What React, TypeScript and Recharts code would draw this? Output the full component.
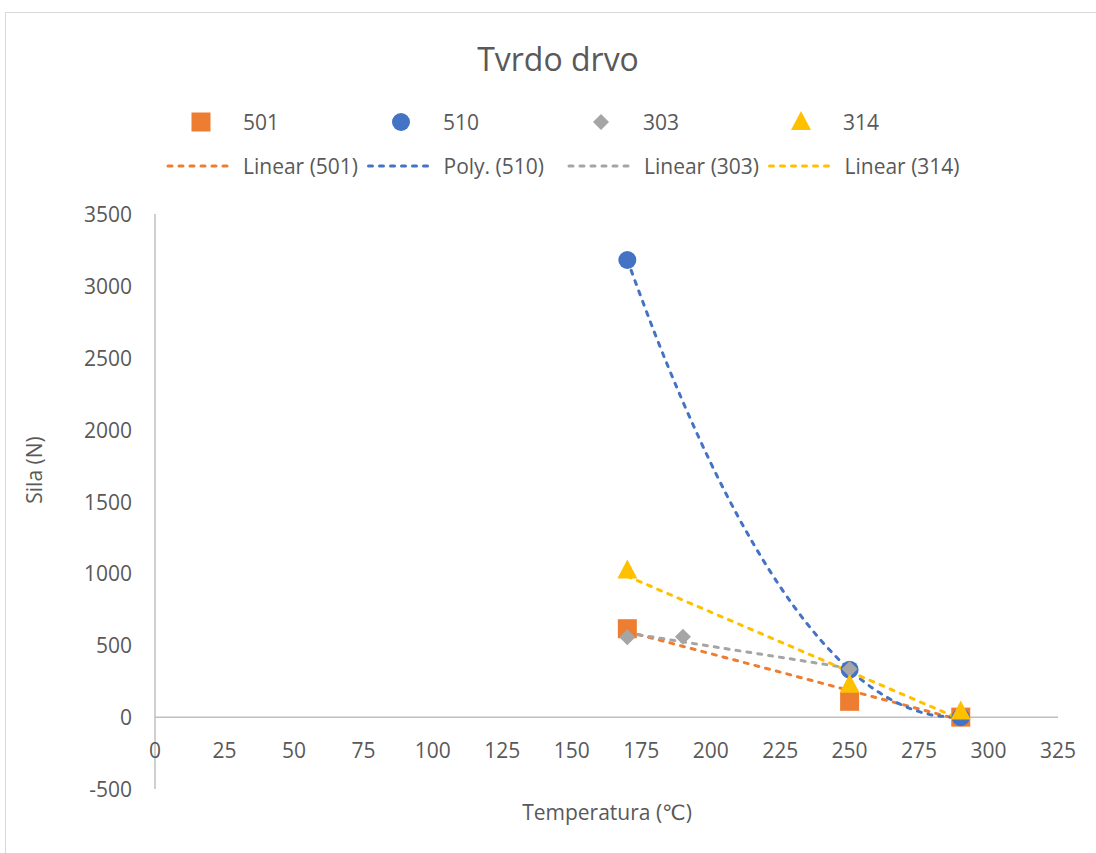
import React from "react";
import {
  ComposedChart,
  Scatter,
  Line,
  XAxis,
  YAxis,
  ReferenceLine,
  Label,
} from "recharts";

// ---- data ----
const xTicks = [0, 25, 50, 75, 100, 125, 150, 175, 200, 225, 250, 275, 300, 325];
const yTicks = [-500, 0, 500, 1000, 1500, 2000, 2500, 3000, 3500];

const series501 = [
  { x: 170, y: 615 },
  { x: 250, y: 110 },
  { x: 290, y: 0 },
];
const series510 = [
  { x: 170, y: 3180 },
  { x: 250, y: 330 },
  { x: 290, y: 0 },
];
const series303 = [
  { x: 170, y: 555 },
  { x: 190, y: 560 },
  { x: 250, y: 335 },
];
const series314 = [
  { x: 170, y: 1020 },
  { x: 250, y: 225 },
  { x: 290, y: 40 },
];

// trendlines
const trend501 = [
  { x: 170, y: 595 },
  { x: 290, y: -20 },
];
const trend303 = [
  { x: 170, y: 585 },
  { x: 250, y: 340 },
];
const trend314 = [
  { x: 170, y: 980 },
  { x: 290, y: -15 },
];
const trend510 = [
  { x: 170, y: 3180 },
  { x: 180, y: 2664 },
  { x: 190, y: 2194 },
  { x: 200, y: 1769 },
  { x: 210, y: 1390 },
  { x: 220, y: 1057 },
  { x: 230, y: 769 },
  { x: 240, y: 527 },
  { x: 250, y: 330 },
  { x: 260, y: 179 },
  { x: 270, y: 74 },
  { x: 280, y: 14 },
  { x: 290, y: 0 },
];

const markerNames = ["501", "510", "303", "314"];
const trendNames = ["Linear (501)", "Poly. (510)", "Linear (303)", "Linear (314)"];
const titleText = "Tvrdo drvo";
const xLabelText = "Temperatura (℃)";
const yLabelText = "Sila (N)";

const C_ORANGE = "#ED7D31";
const C_BLUE = "#4472C4";
const C_GRAY = "#A5A5A5";
const C_YELLOW = "#FFC000";
const colors = [C_ORANGE, C_BLUE, C_GRAY, C_YELLOW];

const FONT = "'Open Sans', 'DejaVu Sans', sans-serif";
const TEXT = "#595959";
const AXIS = "#BFBFBF";
const FS = 21;

const SquareShape = (p: any) => (
  <rect x={p.cx - 9.5} y={p.cy - 9.5} width={19} height={19} fill={C_ORANGE} />
);
const CircleShape = (p: any) => <circle cx={p.cx} cy={p.cy} r={9} fill={C_BLUE} />;
const DiamondShape = (p: any) => (
  <polygon
    points={`${p.cx},${p.cy - 8} ${p.cx + 8},${p.cy} ${p.cx},${p.cy + 8} ${p.cx - 8},${p.cy}`}
    fill={C_GRAY}
  />
);
const TriangleShape = (p: any) => (
  <polygon
    points={`${p.cx},${p.cy - 11} ${p.cx + 10},${p.cy + 8} ${p.cx - 10},${p.cy + 8}`}
    fill={C_YELLOW}
  />
);

const markerIcon = (i: number, cx: number, cy: number) => {
  const p = { cx, cy };
  if (i === 0) return <SquareShape {...p} />;
  if (i === 1) return <CircleShape {...p} />;
  if (i === 2) return <DiamondShape {...p} />;
  return <TriangleShape {...p} />;
};

// x tick labels sit just under the zero line, as in the reference
const XTick = (props: any) => {
  const { x, payload } = props;
  return (
    <text
      x={x}
      y={750}
      textAnchor="middle"
      dominantBaseline="central"
      fill={TEXT}
      fontSize={FS}
      fontFamily={FONT}
    >
      {payload.value}
    </text>
  );
};

const YTick = (props: any) => {
  const { x, y, payload } = props;
  return (
    <text
      x={x}
      y={y}
      textAnchor="end"
      dominantBaseline="central"
      fill={TEXT}
      fontSize={FS}
      fontFamily={FONT}
    >
      {payload.value}
    </text>
  );
};

const XTitle = () => (
  <text
    x={607}
    y={812}
    textAnchor="middle"
    dominantBaseline="central"
    fill={TEXT}
    fontSize={FS}
    fontFamily={FONT}
  >
    {xLabelText}
  </text>
);

const YTitle = () => (
  <text
    x={34}
    y={470}
    textAnchor="middle"
    dominantBaseline="central"
    fill={TEXT}
    fontSize={FS}
    fontFamily={FONT}
    transform="rotate(-90 34 470)"
  >
    {yLabelText}
  </text>
);

const dash = "4 7";

export default function App() {
  return (
    <div
      style={{
        position: "absolute",
        left: 0,
        top: 0,
        width: 1096,
        height: 853,
        overflow: "hidden",
        background: "#fff",
      }}
    >
      <div
        style={{
          position: "absolute",
          left: 5,
          top: 12,
          width: 1200,
          height: 1000,
          border: "1px solid #D9D9D9",
        }}
      />
      <svg
        width={1096}
        height={200}
        style={{ position: "absolute", left: 0, top: 0 }}
      >
        <text
          x={558}
          y={58}
          textAnchor="middle"
          dominantBaseline="central"
          fill={TEXT}
          fontSize={32}
          fontFamily={FONT}
        >
          {titleText}
        </text>
        {markerNames.map((n, i) => (
          <g key={n}>
            {markerIcon(i, 201 + i * 200, 122)}
            <text
              x={243 + i * 200}
              y={122}
              dominantBaseline="central"
              fill={TEXT}
              fontSize={FS}
              fontFamily={FONT}
            >
              {n}
            </text>
          </g>
        ))}
        {trendNames.map((n, i) => (
          <g key={n}>
            <line
              x1={168 + i * 200.5}
              x2={232 + i * 200.5}
              y1={166}
              y2={166}
              stroke={colors[i]}
              strokeWidth={3}
              strokeDasharray={dash}
              strokeLinecap="round"
            />
            <text
              x={243 + i * 200.5}
              y={166}
              dominantBaseline="central"
              fill={TEXT}
              fontSize={FS}
              fontFamily={FONT}
            >
              {n}
            </text>
          </g>
        ))}
      </svg>
      <div style={{ position: "absolute", left: 0, top: 0 }}>
        <ComposedChart
          width={1096}
          height={853}
          margin={{ top: 214, right: 38, bottom: 24, left: 95 }}
        >
          <XAxis
            type="number"
            dataKey="x"
            domain={[0, 325]}
            ticks={xTicks}
            interval={0}
            axisLine={false}
            tickLine={false}
            height={40}
            tick={<XTick />}
            allowDataOverflow
          >
            <Label content={<XTitle />} />
          </XAxis>
          <YAxis
            type="number"
            dataKey="y"
            domain={[-500, 3500]}
            ticks={yTicks}
            interval={0}
            width={60}
            axisLine={{ stroke: AXIS, strokeWidth: 1.5 }}
            tickLine={false}
            tickSize={6}
            tickMargin={17}
            tick={<YTick />}
            allowDataOverflow
          >
            <Label content={<YTitle />} />
          </YAxis>
          <ReferenceLine y={0} stroke={AXIS} strokeWidth={1.5} />
          <Scatter data={series501} fill={C_ORANGE} shape={<SquareShape />} isAnimationActive={false} />
          <Scatter data={series510} fill={C_BLUE} shape={<CircleShape />} isAnimationActive={false} />
          <Scatter data={series303} fill={C_GRAY} shape={<DiamondShape />} isAnimationActive={false} />
          <Scatter data={series314} fill={C_YELLOW} shape={<TriangleShape />} isAnimationActive={false} />
          <Line
            data={trend501}
            dataKey="y"
            type="linear"
            stroke={C_ORANGE}
            strokeWidth={3}
            strokeDasharray={dash}
            strokeLinecap="round"
            dot={false}
            activeDot={false}
            isAnimationActive={false}
          />
          <Line
            data={trend510}
            dataKey="y"
            type="natural"
            stroke={C_BLUE}
            strokeWidth={3}
            strokeDasharray={dash}
            strokeLinecap="round"
            dot={false}
            activeDot={false}
            isAnimationActive={false}
          />
          <Line
            data={trend303}
            dataKey="y"
            type="linear"
            stroke={C_GRAY}
            strokeWidth={3}
            strokeDasharray={dash}
            strokeLinecap="round"
            dot={false}
            activeDot={false}
            isAnimationActive={false}
          />
          <Line
            data={trend314}
            dataKey="y"
            type="linear"
            stroke={C_YELLOW}
            strokeWidth={3}
            strokeDasharray={dash}
            strokeLinecap="round"
            dot={false}
            activeDot={false}
            isAnimationActive={false}
          />
        </ComposedChart>
      </div>
    </div>
  );
}
